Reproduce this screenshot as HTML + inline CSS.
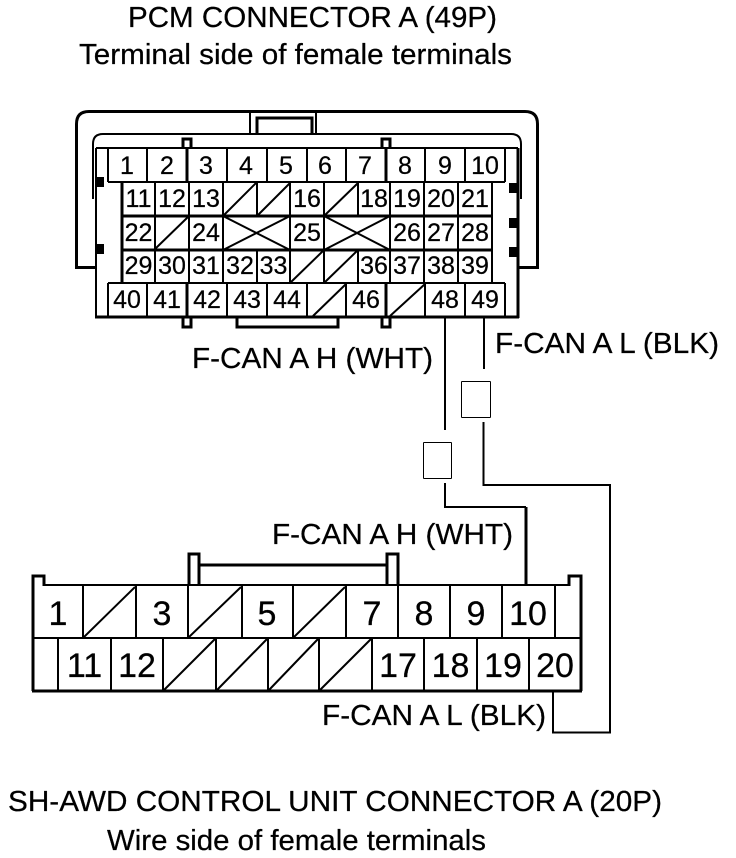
<!DOCTYPE html>
<html>
<head>
<meta charset="utf-8">
<style>
html,body{margin:0;padding:0;background:#fff;width:736px;height:858px;overflow:hidden}
svg{display:block}
text{font-family:"Liberation Sans",sans-serif;fill:#000;stroke:#000;stroke-width:.25}
.t{font-size:29px}
.n{font-size:25px;text-anchor:middle}
.b{font-size:34px;text-anchor:middle}
.l{fill:none;stroke:#000;stroke-width:2;shape-rendering:crispEdges}
.k{fill:none;stroke:#000;stroke-width:3;shape-rendering:crispEdges}
.d{fill:none;stroke:#000;stroke-width:2}
.r{fill:none;stroke:#000;stroke-width:3}
</style>
</head>
<body>
<svg width="736" height="858" viewBox="0 0 736 858" xmlns="http://www.w3.org/2000/svg">
<!-- titles -->
<text class="t" x="128" y="27" textLength="369" lengthAdjust="spacingAndGlyphs">PCM CONNECTOR A (49P)</text>
<text class="t" x="79" y="64" textLength="433" lengthAdjust="spacingAndGlyphs">Terminal side of female terminals</text>

<!-- PCM shell -->
<path class="r" d="M95 267.5H76.5V124Q76.5 111.5 89 111.5H525Q537.5 111.5 537.5 124V267.5H518"/>
<path class="d" d="M93 199V144Q93 134 103 134H511Q521 134 521 144V199"/>
<path class="l" d="M250 111V134M316 111V134"/>
<path class="k" d="M257 134V118H312V134"/>
<!-- tabs -->
<path class="k" d="M183 148V139H191V148M382 148V139H390V148"/>
<path class="k" d="M183 317V327H191V317M382 317V327H390V317"/>
<path class="k" d="M237 317V327H338V317"/>
<!-- main box -->
<path class="l" d="M96 148H518M96 148V317"/>
<path class="k" d="M518 148V318M95 317H519"/>
<!-- black keys -->
<rect x="96" y="177" width="8" height="10"/>
<rect x="96" y="244" width="8" height="10"/>
<rect x="509" y="183" width="9" height="10"/>
<rect x="509" y="218" width="9" height="10"/>
<rect x="509" y="247" width="9" height="10"/>
<!-- rows -->
<path class="l" d="M108 182H505M108 283H505M108 148V182M147 148V182M227 148V182M267 148V182M307 148V182M346 148V182M425 148V182M465 148V182M505 148V182"/>
<path class="k" d="M187 148V182M386 148V182"/>
<path class="l" d="M108 283V317M147 283V317M227 283V317M267 283V317M307 283V317M346 283V317M425 283V317M465 283V317M505 283V317"/>
<path class="k" d="M187 283V317M386 283V317"/>
<path class="k" d="M122 216H492M122 250H492M122 182V283"/>
<path class="l" d="M492 182V283"/>
<path class="l" d="M155 182V216M189 182V216M223 182V216M257 182V216M290 182V216M324 182V216M358 182V216M390 182V216M424 182V216M458 182V216"/>
<path class="l" d="M155 216V250M189 216V250M223 216V250M290 216V250M324 216V250M390 216V250M424 216V250M458 216V250"/>
<path class="l" d="M155 250V283M189 250V283M223 250V283M257 250V283M290 250V283M324 250V283M358 250V283M390 250V283M424 250V283M458 250V283"/>
<!-- diagonals -->
<path class="d" d="M223 216L256 183M257 216L290 183M324 216L358 183M155 249L189 216M290 283L324 250M324 283L358 250M313 316L346 284M390 316L425 284"/>
<path class="d" d="M223 216L290 250M223 250L290 216M324 216L390 250M324 250L390 216"/>

<!-- PCM numbers -->
<text class="n" x="127" y="174">1</text><text class="n" x="167" y="174">2</text><text class="n" x="206" y="174">3</text><text class="n" x="246" y="174">4</text><text class="n" x="286" y="174">5</text><text class="n" x="325" y="174">6</text><text class="n" x="365" y="174">7</text><text class="n" x="405" y="174">8</text><text class="n" x="445" y="174">9</text><text class="n" x="485" y="174">10</text>
<text class="n" x="138.5" y="207">11</text><text class="n" x="172" y="207">12</text><text class="n" x="206" y="207">13</text><text class="n" x="307" y="207">16</text><text class="n" x="374" y="207">18</text><text class="n" x="407" y="207">19</text><text class="n" x="441" y="207">20</text><text class="n" x="475" y="207">21</text>
<text class="n" x="138.5" y="241">22</text><text class="n" x="206" y="241">24</text><text class="n" x="307" y="241">25</text><text class="n" x="407" y="241">26</text><text class="n" x="441" y="241">27</text><text class="n" x="475" y="241">28</text>
<text class="n" x="138.5" y="274">29</text><text class="n" x="172" y="274">30</text><text class="n" x="206" y="274">31</text><text class="n" x="240" y="274">32</text><text class="n" x="273.5" y="274">33</text><text class="n" x="374" y="274">36</text><text class="n" x="407" y="274">37</text><text class="n" x="441" y="274">38</text><text class="n" x="475" y="274">39</text>
<text class="n" x="127" y="308">40</text><text class="n" x="167" y="308">41</text><text class="n" x="207" y="308">42</text><text class="n" x="247" y="308">43</text><text class="n" x="287" y="308">44</text><text class="n" x="366" y="308">46</text><text class="n" x="445" y="308">48</text><text class="n" x="485" y="308">49</text>

<!-- wires -->
<path class="l" d="M445 317V430M484 317V369"/>
<rect x="461.5" y="381.5" width="29" height="36" rx="1" fill="none" stroke="#000" stroke-width="1" shape-rendering="crispEdges"/>
<rect x="423.5" y="442.5" width="28" height="36" rx="1" fill="none" stroke="#000" stroke-width="1" shape-rendering="crispEdges"/>
<path class="l" d="M483.5 422V485H610V732.5H553V692"/>
<path class="l" d="M445 483V507H526"/>
<path class="k" d="M526 507V585"/>

<text class="t" x="192" y="368" textLength="241" lengthAdjust="spacingAndGlyphs">F-CAN A H (WHT)</text>
<text class="t" x="495" y="353" textLength="224" lengthAdjust="spacingAndGlyphs">F-CAN A L (BLK)</text>
<text class="t" x="272" y="544" textLength="241" lengthAdjust="spacingAndGlyphs">F-CAN A H (WHT)</text>
<text class="t" x="322" y="725" textLength="224" lengthAdjust="spacingAndGlyphs">F-CAN A L (BLK)</text>

<!-- SH-AWD connector -->
<path class="l" d="M44 585H569"/>
<path class="k" d="M33 691V576H44V586M569 586V576H581V691"/>
<path class="k" d="M189 585V554H199V585M387 585V554H398V585M199 565H388"/>
<path class="k" d="M32 691H582"/>
<path class="l" d="M33 638H581"/>
<path class="l" d="M83 586V638M136 586V638M188 586V638M242 586V638M293 586V638M346 586V638M398 586V638M450 586V638M502 586V638M555 586V638"/>
<path class="l" d="M58 638V691M111 638V691M163 638V691M216 638V691M268 638V691M319 638V691M372 638V691M424 638V691M477 638V691M529 638V691"/>
<path class="d" d="M84 637L135 587M189 637L241 587M294 637L345 587M164 690L215 639M217 690L267 639M269 690L318 639M320 690L371 639"/>
<text class="b" x="58" y="625">1</text><text class="b" x="162" y="625">3</text><text class="b" x="267" y="625">5</text><text class="b" x="372" y="625">7</text><text class="b" x="424" y="625">8</text><text class="b" x="476" y="625">9</text><text class="b" x="528" y="625">10</text>
<text class="b" x="84.5" y="677">11</text><text class="b" x="137" y="677">12</text><text class="b" x="398" y="677">17</text><text class="b" x="450.5" y="677">18</text><text class="b" x="503" y="677">19</text><text class="b" x="555" y="677">20</text>

<text class="t" x="8" y="811" textLength="654" lengthAdjust="spacingAndGlyphs">SH-AWD CONTROL UNIT CONNECTOR A (20P)</text>
<text class="t" x="107" y="850" textLength="379" lengthAdjust="spacingAndGlyphs">Wire side of female terminals</text>
</svg>
</body>
</html>
